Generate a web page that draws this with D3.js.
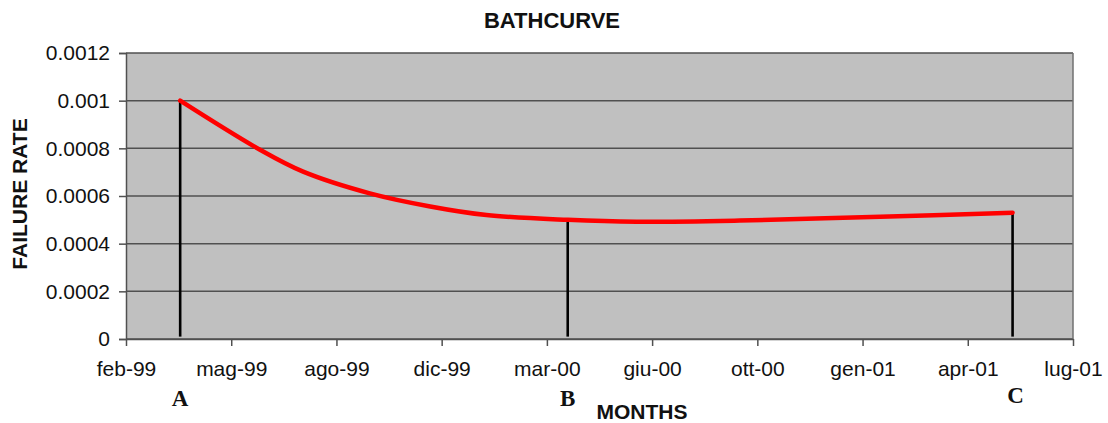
<!DOCTYPE html>
<html>
<head>
<meta charset="utf-8">
<script src="https://cdn.jsdelivr.net/npm/d3@7"></script>
<style>
  html, body { margin: 0; padding: 0; background: #fff; }
  svg { display: block; }
  text { font-family: Arial, "Liberation Sans", sans-serif; fill: #111; }
</style>
</head>
<body>
<svg id="chart" width="1108" height="423"></svg>
<script>
// Failure rate over time (bathtub curve)
const sampleDates = ["1999-03-27", "1999-06-12", "1999-07-23", "1999-09-25", "1999-11-22",
                     "2000-01-15", "2000-04-02", "2000-06-07", "2000-09-14", "2001-01-27", "2001-06-03"];
const failureRates = [0.001, 0.000793, 0.000702, 0.000611, 0.000556,
                      0.00052, 0.0005, 0.000492, 0.000497, 0.000513, 0.00053];

// Phase boundaries marked with vertical lines
const phaseLabels = ["A", "B", "C"];
const phaseDates = ["1999-03-27", "2000-04-02", "2001-06-03"];
const phaseRates = [0.001, 0.0005, 0.00053];

// Axis ticks
const xTickDates = ["1999-02-03", "1999-05-15", "1999-08-24", "1999-12-03", "2000-03-13",
                    "2000-06-22", "2000-10-01", "2001-01-10", "2001-04-21", "2001-07-31"];
const xTickLabels = ["feb-99", "mag-99", "ago-99", "dic-99", "mar-00",
                     "giu-00", "ott-00", "gen-01", "apr-01", "lug-01"];
const yTickValues = [0, 0.0002, 0.0004, 0.0006, 0.0008, 0.001, 0.0012];
const yTickLabels = ["0", "0.0002", "0.0004", "0.0006", "0.0008", "0.001", "0.0012"];

const parse = d3.utcParse("%Y-%m-%d");
const svg = d3.select("#chart");

const plot = { left: 126, right: 1073, top: 53, bottom: 339 };

const x = d3.scaleUtc()
  .domain([parse(xTickDates[0]), parse(xTickDates[xTickDates.length - 1])])
  .range([plot.left, plot.right]);
const y = d3.scaleLinear()
  .domain([0, 0.0012])
  .range([plot.bottom, plot.top]);

// plot background
svg.append("rect")
  .attr("x", plot.left).attr("y", plot.top)
  .attr("width", plot.right - plot.left).attr("height", plot.bottom - plot.top)
  .attr("fill", "#c0c0c0");

// horizontal gridlines
svg.append("g")
  .selectAll("line")
  .data(yTickValues)
  .join("line")
  .attr("x1", plot.left).attr("x2", plot.right)
  .attr("y1", d => y(d)).attr("y2", d => y(d))
  .attr("stroke", "#505050").attr("stroke-width", 1.5);

// right border of the plot area
svg.append("line")
  .attr("x1", plot.right).attr("x2", plot.right)
  .attr("y1", plot.top).attr("y2", plot.bottom)
  .attr("stroke", "#707070").attr("stroke-width", 1.5);

// y axis
const yAxis = d3.axisLeft(y)
  .tickValues(yTickValues)
  .tickFormat((d, i) => yTickLabels[i])
  .tickSize(7)
  .tickPadding(9);
const gy = svg.append("g")
  .attr("transform", `translate(${plot.left},0)`)
  .call(yAxis);
gy.select(".domain").attr("stroke", "#505050").attr("stroke-width", 1.5);
gy.selectAll(".tick line").attr("stroke", "#505050").attr("stroke-width", 1.5);
gy.selectAll(".tick text")
  .style("font-family", "Arial, 'Liberation Sans', sans-serif")
  .style("font-size", "21px").attr("fill", "#111");

// x axis
const xAxis = d3.axisBottom(x)
  .tickValues(xTickDates.map(parse))
  .tickFormat((d, i) => xTickLabels[i])
  .tickSize(7)
  .tickPadding(15)
  .tickSizeOuter(0);
const gx = svg.append("g")
  .attr("transform", `translate(0,${plot.bottom})`)
  .call(xAxis);
gx.select(".domain").attr("stroke", "#505050").attr("stroke-width", 1.5);
gx.selectAll(".tick line").attr("stroke", "#505050").attr("stroke-width", 1.5);
gx.selectAll(".tick text")
  .style("font-family", "Arial, 'Liberation Sans', sans-serif")
  .style("font-size", "21px").attr("fill", "#111");

// vertical phase markers
svg.append("g")
  .selectAll("line")
  .data(phaseDates.map((d, i) => ({ date: parse(d), rate: phaseRates[i] })))
  .join("line")
  .attr("x1", d => x(d.date)).attr("x2", d => x(d.date))
  .attr("y1", y(0.00001)).attr("y2", d => y(d.rate))
  .attr("stroke", "#000").attr("stroke-width", 2.6);

// failure-rate curve
const series = sampleDates.map((d, i) => ({ date: parse(d), rate: failureRates[i] }));
svg.append("path")
  .datum(series)
  .attr("fill", "none")
  .attr("stroke", "#ff0000")
  .attr("stroke-width", 4.5)
  .attr("stroke-linecap", "round")
  .attr("d", d3.line().x(d => x(d.date)).y(d => y(d.rate)).curve(d3.curveCatmullRom.alpha(0.5)));

// phase letters under the axis
const letterBaselines = [406, 406, 403];
svg.append("g")
  .selectAll("text")
  .data(phaseDates.map((d, i) => ({ date: parse(d), label: phaseLabels[i], base: letterBaselines[i] })))
  .join("text")
  .attr("x", d => x(d.date) + (d.label === "C" ? 3 : 0))
  .attr("y", d => d.base)
  .attr("text-anchor", "middle")
  .style("font-family", "'Liberation Serif', 'Times New Roman', serif")
  .style("font-weight", "bold")
  .style("font-size", "23px")
  .attr("fill", "#000")
  .text(d => d.label);

// title
svg.append("text")
  .attr("x", 552).attr("y", 28)
  .attr("text-anchor", "middle")
  .style("font-weight", "bold").style("font-size", "22px")
  .attr("fill", "#000")
  .text("BATHCURVE");

// axis titles
svg.append("text")
  .attr("x", 642).attr("y", 419)
  .attr("text-anchor", "middle")
  .style("font-weight", "bold").style("font-size", "21px")
  .attr("fill", "#000")
  .text("MONTHS");

svg.append("text")
  .attr("transform", "translate(27,194) rotate(-90)")
  .attr("text-anchor", "middle")
  .style("font-weight", "bold").style("font-size", "21px")
  .attr("fill", "#000")
  .text("FAILURE RATE");
</script>
</body>
</html>
